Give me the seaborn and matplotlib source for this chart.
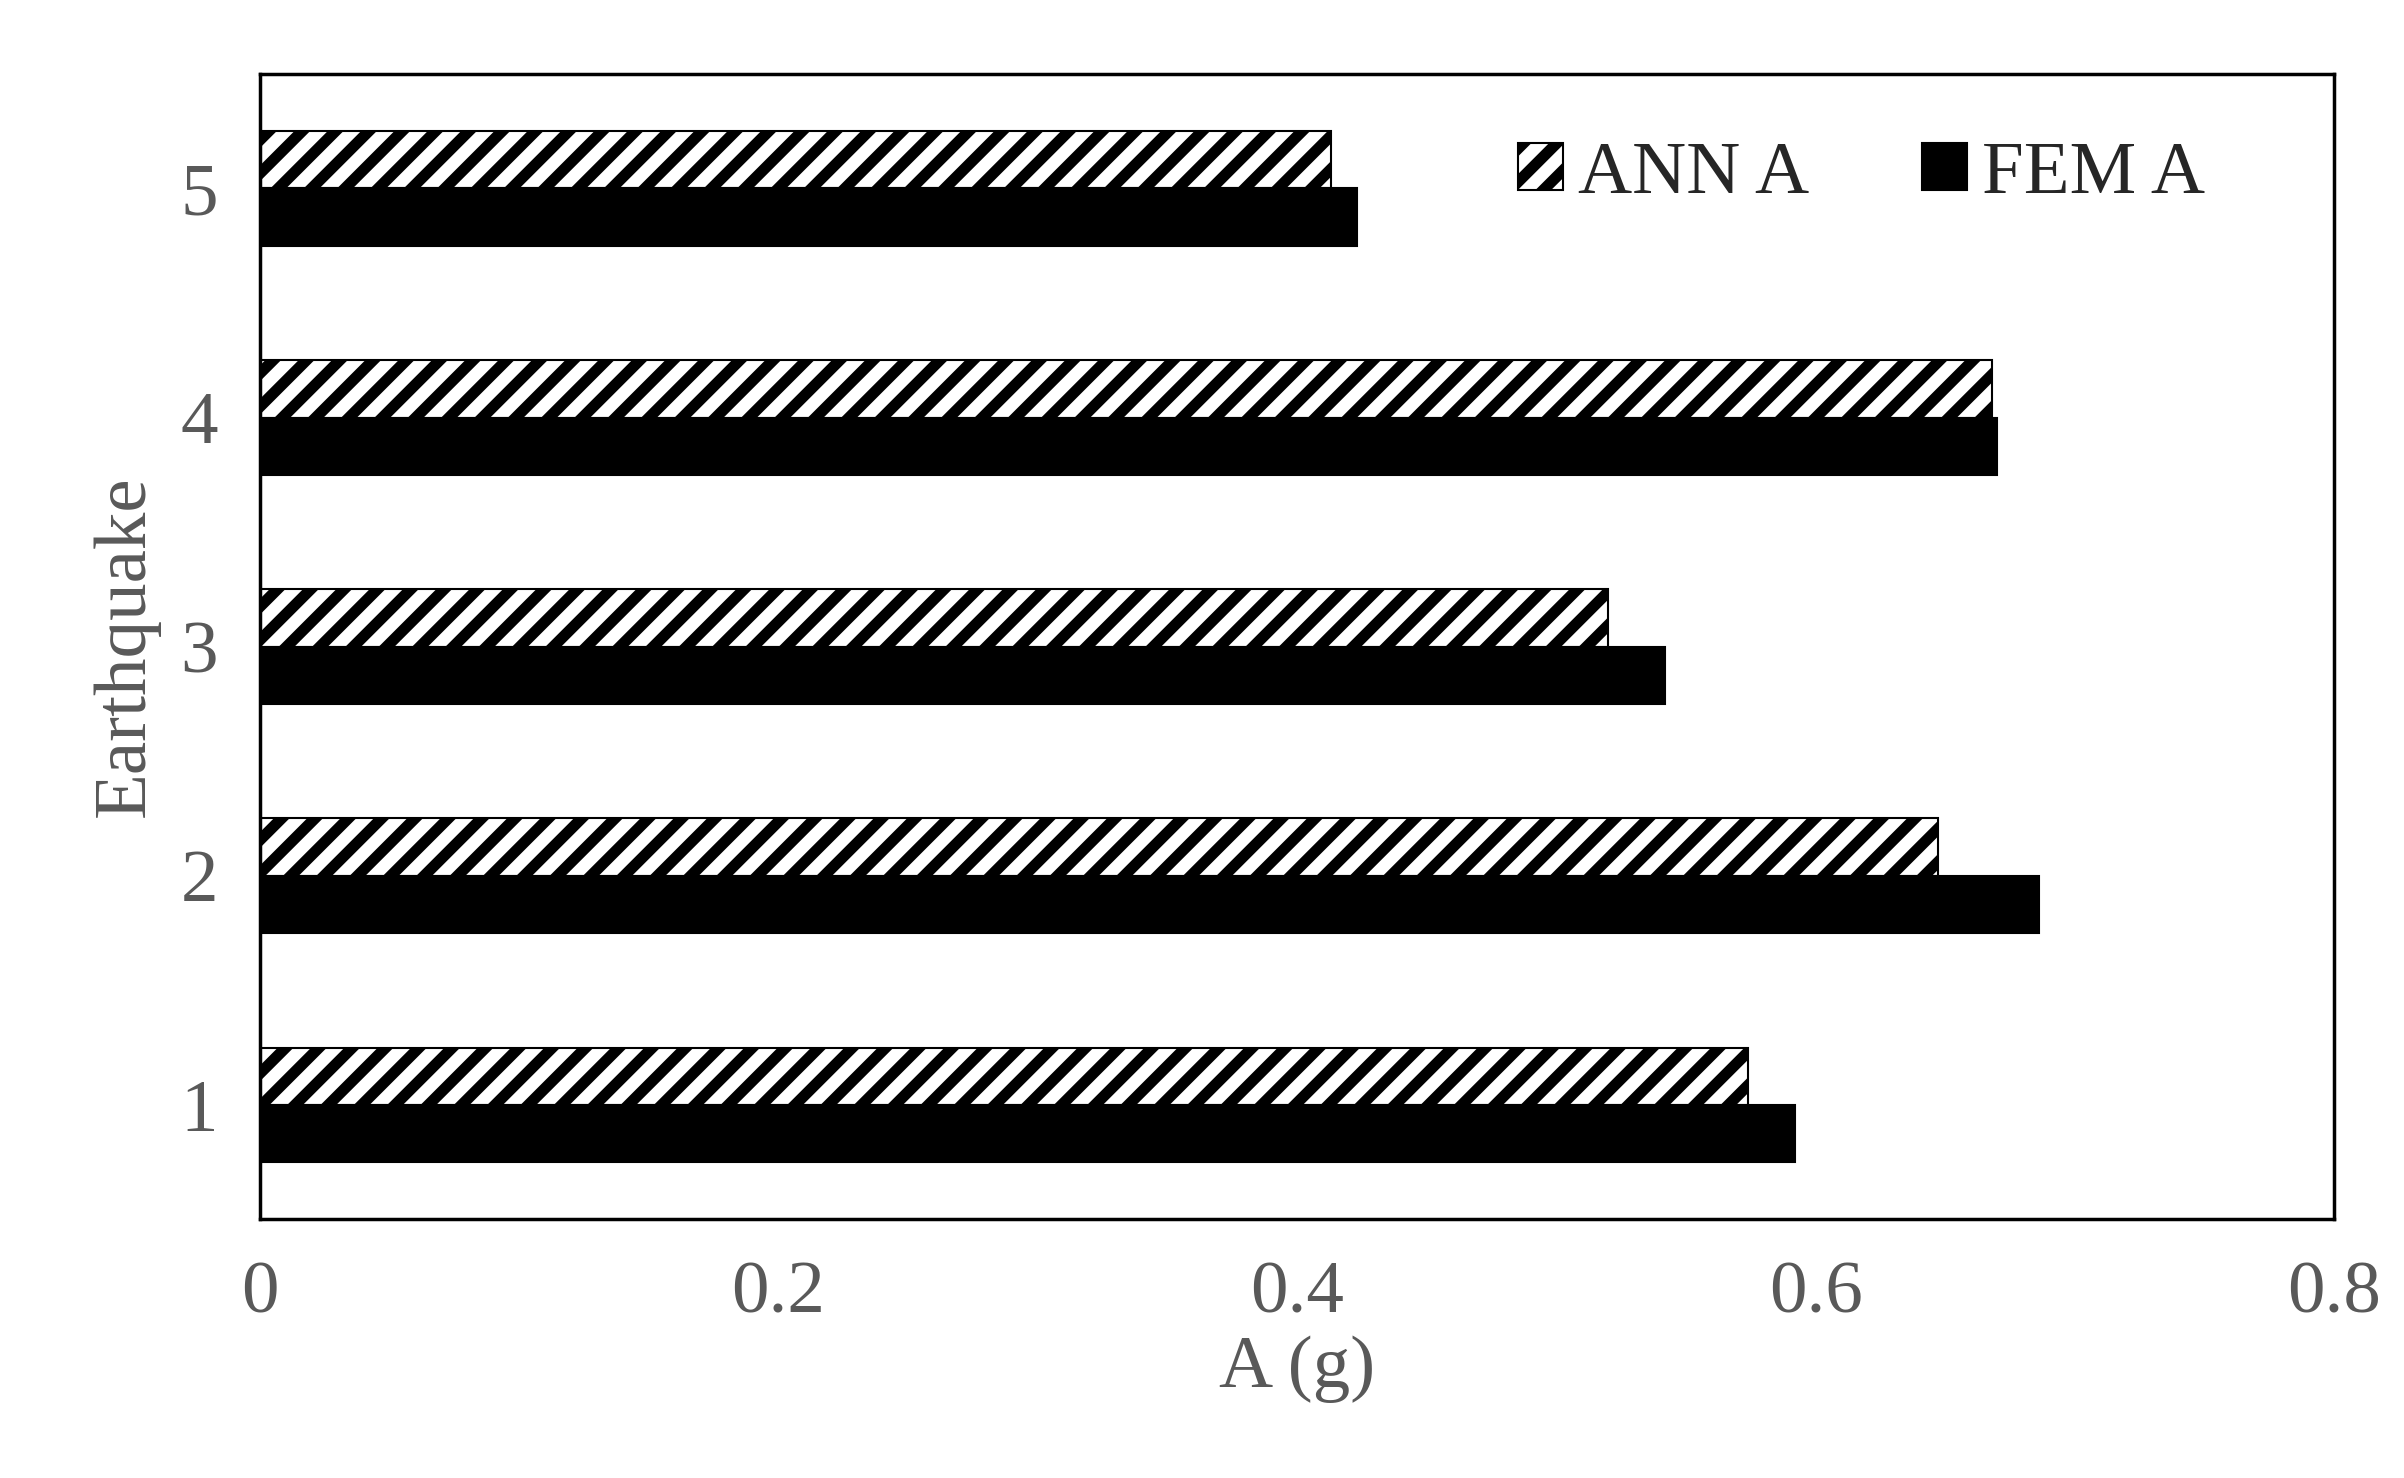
import pandas as pd
import seaborn as sns
import matplotlib.pyplot as plt

sns.set_style("white")
plt.rcParams['font.family'] = ['Liberation Serif', 'DejaVu Serif']
plt.rcParams['hatch.linewidth'] = 8

earthquakes = ['1', '2', '3', '4', '5']
ann_a = [0.574, 0.647, 0.520, 0.668, 0.413]
fem_a = [0.592, 0.686, 0.542, 0.670, 0.423]

df = pd.DataFrame({
    'Earthquake': earthquakes * 2,
    'A': ann_a + fem_a,
    'series': ['ANN A'] * 5 + ['FEM A'] * 5,
})

fig, ax = plt.subplots(figsize=(24.04, 14.78), dpi=100)
fig.subplots_adjust(left=0.108, right=0.971, top=0.95, bottom=0.175)

sns.barplot(data=df, x='A', y='Earthquake', hue='series',
            order=earthquakes[::-1], hue_order=['ANN A', 'FEM A'],
            palette={'ANN A': 'white', 'FEM A': 'black'},
            orient='h', width=0.5, edgecolor='black', linewidth=1.5, ax=ax)

# hatch the ANN bars
for bar in ax.containers[0]:
    bar.set_hatch('/')

ax.set_xlim(0, 0.8)
ax.set_xticks([0, 0.2, 0.4, 0.6, 0.8])
ax.set_xticklabels(['0', '0.2', '0.4', '0.6', '0.8'])
gray = '#595959'
ax.tick_params(axis='both', labelsize=54, colors=gray, length=0, pad=30)
ax.set_xlabel('A (g)', fontsize=54, color=gray, labelpad=5)
ax.set_ylabel('Earthquake', fontsize=54, color=gray, labelpad=15)
for s in ax.spines.values():
    s.set_color('black')
    s.set_linewidth(2.5)

leg = ax.legend(loc='upper right', ncol=2, frameon=False, fontsize=54,
                handlelength=0.6, handleheight=0.6, handletextpad=0.2,
                columnspacing=1.5, bbox_to_anchor=(0.97, 1.0))
leg.get_patches()[0].set_hatch('/')
fig.savefig('out.png')
